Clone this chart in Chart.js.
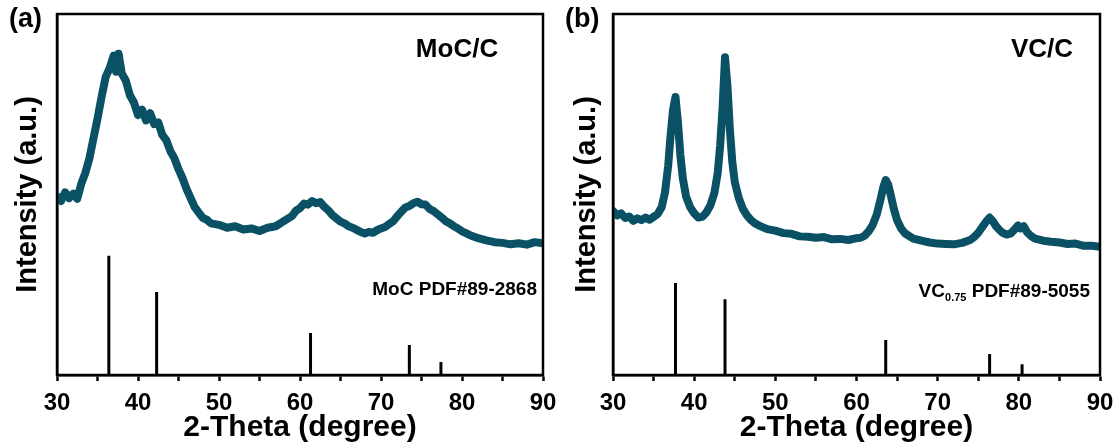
<!DOCTYPE html>
<html>
<head>
<meta charset="utf-8">
<script src="https://cdn.jsdelivr.net/npm/chart.js@4.4.0/dist/chart.umd.min.js"></script>
<style>
body{margin:0;background:#fff;}
#wrap{position:relative;width:1118px;height:448px;}
.panel{position:absolute;top:0;width:559px;height:448px;}
</style>
</head>
<body>
<div id="wrap">
  <div class="panel" style="left:0"><canvas id="chartA" width="559" height="448"></canvas></div>
  <div class="panel" style="left:559px"><canvas id="chartB" width="559" height="448"></canvas></div>
</div>
<script>
// XRD patterns (2-theta in degree, intensity in arbitrary units)
const mocTheta = [30, 30.5, 31, 31.5, 32, 32.5, 33, 33.5, 34, 34.5, 35, 35.5, 36, 36.5, 37, 37.3, 37.6, 38, 38.5, 39, 39.5, 40, 40.5, 41, 41.5, 42, 42.5, 43, 43.5, 44, 44.5, 45, 45.5, 46, 46.5, 47, 47.5, 48, 48.5, 49, 50, 51, 52, 53, 54, 55, 56, 57, 58, 59, 59.5, 60, 60.5, 61, 61.5, 62, 62.5, 63, 63.5, 64, 64.5, 65, 65.5, 66, 66.5, 67, 67.5, 68, 68.5, 69, 69.5, 70, 70.5, 71, 71.5, 72, 72.5, 73, 73.5, 74, 74.5, 75, 75.5, 76, 76.5, 77, 77.5, 78, 78.5, 79, 79.5, 80, 80.5, 81, 81.5, 82, 83, 84, 85, 86, 87, 88, 89, 90];
const mocInt = [49.5, 48.2, 50.6, 49.0, 50.2, 48.8, 53.0, 56.0, 60.0, 65.5, 71.0, 77.0, 82.5, 85.0, 88.5, 84.0, 89.0, 83.5, 81.5, 77.5, 75.5, 72.0, 73.5, 70.5, 72.5, 69.5, 70.0, 66.5, 65.0, 62.0, 60.0, 57.0, 54.5, 51.5, 49.0, 46.5, 45.0, 43.5, 43.0, 42.0, 41.6, 40.8, 41.2, 40.3, 40.6, 39.9, 40.8, 41.2, 42.6, 44.0, 45.5, 46.2, 47.5, 47.2, 48.2, 47.6, 47.9, 46.6, 45.6, 44.3, 43.4, 42.5, 42.0, 41.2, 40.8, 40.2, 39.6, 39.2, 39.6, 39.4, 40.1, 40.6, 41.0, 41.8, 42.6, 44.0, 45.2, 46.4, 46.8, 47.6, 48.0, 47.3, 47.2, 46.0, 45.4, 44.5, 43.6, 42.6, 42.0, 41.2, 40.6, 39.8, 39.3, 38.7, 38.3, 37.9, 37.3, 36.8, 36.6, 36.2, 36.5, 36.1, 36.8, 36.5];

const vcTheta = [30, 30.5, 31, 31.5, 32, 32.5, 33, 33.5, 34, 34.5, 35, 35.5, 36, 36.4, 36.8, 37.1, 37.4, 37.7, 38.0, 38.3, 38.6, 39.0, 39.5, 40, 40.5, 41, 41.5, 42, 42.5, 42.9, 43.2, 43.5, 43.8, 44.1, 44.4, 44.7, 45.0, 45.5, 46, 46.5, 47, 47.5, 48, 49, 50, 51, 52, 53, 54, 55, 56, 57, 58, 59, 60, 60.5, 61, 61.5, 62, 62.5, 63, 63.3, 63.6, 63.9, 64.2, 64.6, 65, 65.5, 66, 67, 68, 69, 70, 71, 72, 73, 74, 74.5, 75, 75.5, 76, 76.4, 76.8, 77.2, 77.6, 78, 78.5, 79, 79.5, 79.9, 80.2, 80.6, 81, 81.5, 82, 83, 84, 85, 86, 87, 88, 89, 90];
const vcInt = [45.5, 44.2, 44.8, 43.5, 43.9, 42.7, 43.4, 42.9, 43.6, 43.0, 43.8, 44.6, 46.5, 50.5, 58.0, 66.5, 73.5, 77.0, 70.0, 61.0, 54.5, 49.5, 46.5, 44.8, 43.6, 43.8, 45.0, 47.0, 50.5, 56.0, 63.5, 74.0, 88.0, 80.0, 68.0, 59.0, 53.5, 49.0, 46.0, 44.2, 42.9, 42.0, 41.4, 40.4, 40.0, 39.3, 39.1, 38.4, 38.3, 38.0, 38.2, 37.6, 37.7, 37.4, 37.9, 38.0, 38.6, 39.8, 41.6, 44.5, 49.0, 52.0, 54.0, 52.8, 50.0, 46.0, 42.9, 40.6, 39.2, 37.8, 37.2, 36.7, 36.4, 36.3, 36.2, 36.6, 37.4, 38.2, 39.4, 41.0, 42.6, 43.6, 42.6, 41.2, 40.2, 39.4, 38.9, 39.2, 40.4, 41.4, 40.6, 41.2, 39.6, 38.5, 37.8, 37.2, 36.9, 36.7, 36.3, 36.4, 35.8, 35.8, 35.5];

// standard card lines
const mocRefPos = [36.4, 42.3, 61.3, 73.5, 77.4];
const mocRefInt = [33, 23, 11.6, 8.3, 3.6];
const vcRefPos = [37.7, 43.8, 63.6, 76.4, 80.4];
const vcRefInt = [25.5, 21, 9.7, 5.8, 3];

const tickValues = [30, 40, 50, 60, 70, 80, 90];
const tickPositions = [30, 35, 40, 45, 50, 55, 60, 65, 70, 75, 80, 85, 90];

const FONT = '"Liberation Sans", Arial, sans-serif';
const LINE_COLOR = '#0b5165';

function sticks(pos, h){
  const pts = [];
  pos.forEach((p, i) => {
    pts.push({x:p, y:0}, {x:p, y:h[i]}, {x:p, y:null});
  });
  return pts;
}

const frame = {
  id: 'frame',
  afterDraw(chart){
    const {ctx, chartArea:a} = chart;
    ctx.save();
    ctx.strokeStyle = '#000';
    ctx.lineWidth = 2.5;
    ctx.strokeRect(a.left, a.top, a.right - a.left, a.bottom - a.top);
    ctx.restore();
  }
};

const labels = {
  id: 'labels',
  afterDraw(chart, args, opts){
    const ctx = chart.ctx;
    ctx.save();
    ctx.fillStyle = '#000';
    ctx.textBaseline = 'middle';
    ctx.font = 'bold 27px ' + FONT;
    ctx.textAlign = 'left';
    ctx.fillText(opts.tag, opts.tagX, 20);
    ctx.font = 'bold 26px ' + FONT;
    ctx.textAlign = 'center';
    ctx.fillText(opts.name, opts.nameX, 50);
    // card label, right aligned, with optional subscript
    ctx.font = 'bold 19px ' + FONT;
    ctx.textAlign = 'left';
    const tail = ' ' + opts.card;
    const wHead = ctx.measureText(opts.phase).width;
    const wTail = ctx.measureText(tail).width;
    ctx.font = 'bold 11px ' + FONT;
    const wSub = opts.sub ? ctx.measureText(opts.sub).width : 0;
    let x = opts.cardRight - wHead - wSub - wTail;
    ctx.font = 'bold 19px ' + FONT;
    ctx.fillText(opts.phase, x, opts.cardY);
    x += wHead;
    if (opts.sub){
      ctx.font = 'bold 11px ' + FONT;
      ctx.fillText(opts.sub, x, opts.cardY + 6);
      x += wSub;
    }
    ctx.font = 'bold 19px ' + FONT;
    ctx.fillText(tail, x, opts.cardY);
    ctx.restore();
  }
};

function makeChart(id, theta, inten, refPos, refInt, yw, padRight, lbl){
  const pattern = theta.map((t, i) => ({x:t, y:inten[i]}));
  return new Chart(document.getElementById(id), {
    type: 'line',
    data: {
      datasets: [
        { data: pattern, borderColor: LINE_COLOR, borderWidth: 8, pointRadius: 0, tension: 0, borderJoinStyle: 'round', borderCapStyle: 'round' },
        { data: sticks(refPos, refInt), borderColor: '#000', borderWidth: 3, pointRadius: 0, spanGaps: false, borderCapStyle: 'butt' }
      ]
    },
    options: {
      responsive: false,
      animation: false,
      devicePixelRatio: 1,
      events: [],
      layout: { padding: { top: 14, right: padRight, bottom: 0, left: 0 } },
      plugins: { legend: {display:false}, tooltip: {enabled:false}, labels: lbl },
      scales: {
        x: {
          type: 'linear', min: 30, max: 90,
          afterBuildTicks: s => { s.ticks = tickPositions.map(v => ({value:v})); },
          afterFit: s => { s.height = 73; s.paddingLeft = 0; s.paddingRight = 0; },
          ticks: {
            autoSkip: false, maxRotation: 0, color: '#000', padding: 8,
            font: { family: FONT, size: 24, weight: 'bold' },
            callback: v => tickValues.includes(v) ? String(v) : ''
          },
          grid: { drawOnChartArea: false, drawTicks: true, tickLength: 6, tickWidth: 2.5, tickColor: '#000' },
          border: { display: true, color: '#000', width: 2.5 },
          title: { display: true, text: '2-Theta (degree)', color: '#000',
                   font: { family: FONT, size: 30, weight: 'bold' }, padding: { top: 0, bottom: 2 } }
        },
        y: {
          min: 0, max: 100,
          afterFit: s => { s.width = yw; },
          ticks: { display: false },
          grid: { display: false },
          border: { display: true, color: '#000', width: 2.5 },
          title: { display: true, text: 'Intensity (a.u.)', color: '#000',
                   font: { family: FONT, size: 29, weight: 'bold' }, padding: { top: 11, bottom: 0 } }
        }
      }
    },
    plugins: [frame, labels]
  });
}

makeChart('chartA', mocTheta, mocInt, mocRefPos, mocRefInt, 57, 16,
  { tag: '(a)', tagX: 9, name: 'MoC/C', nameX: 457, phase: 'MoC', sub: '', card: 'PDF#89-2868', cardRight: 537, cardY: 290 });
makeChart('chartB', vcTheta, vcInt, vcRefPos, vcRefInt, 54, 18,
  { tag: '(b)', tagX: 6, name: 'VC/C', nameX: 483, phase: 'VC', sub: '0.75', card: 'PDF#89-5055', cardRight: 531, cardY: 292 });
</script>
</body>
</html>
